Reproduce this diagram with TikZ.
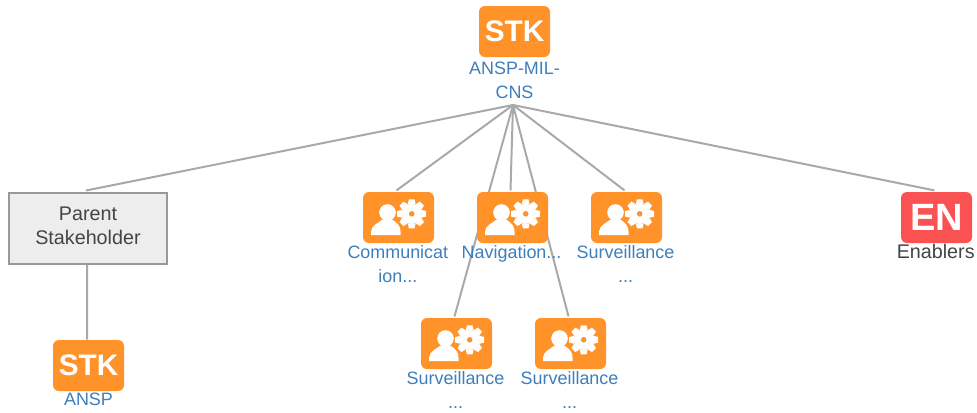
\documentclass[tikz,border=0pt]{standalone}
\usepackage{fontspec}
\setmainfont{Liberation Sans}
\usepackage{tikz}
\usetikzlibrary{positioning, backgrounds}
\definecolor{tileorange}{HTML}{FF9229}
\definecolor{tilered}{HTML}{FA5252}
\definecolor{labelblue}{HTML}{3D7EBB}
\definecolor{linegray}{HTML}{A9A9A9}
\definecolor{textgray}{HTML}{444444}
\tikzstyle{tile} = [rectangle, rounded corners=4.5pt, minimum width=53.25pt, minimum height=38.25pt, inner sep=0pt, fill=tileorange, text=white, font=\fontsize{22.3}{22.3}\selectfont\bfseries]
\tikzstyle{entile} = [tile, fill=tilered, font=\fontsize{28.5}{28.5}\selectfont\bfseries]
\tikzstyle{tilelabel} = [inner sep=0pt, align=center, text=labelblue, font=\fontsize{13.45}{17.8}\selectfont]
\tikzstyle{parentbox} = [rectangle, minimum width=119pt, minimum height=53pt, inner sep=0pt, align=center, draw=gray!80, line width=1.5pt, fill=black!7, text=textgray, font=\fontsize{14.8}{18}\selectfont]
\tikzstyle{link} = [linegray, line width=1.5pt]
\tikzset{usergear/.pic={
  \fill[white] (-11,-5) circle (8.3);
  \fill[white] (-27.5,17.7) -- (-27.5,14) .. controls (-27,8) and (-21,6) .. (-16,2) -- (-6,2) .. controls (-1,6) and (2,8) .. (2,14) -- (2,17.7) -- cycle;
  \fill[white] (13.2,-3.7) circle (10);
  \foreach \a in {0,45,...,315}
    \fill[white, shift={(13.2,-3.7)}, rotate=\a] (-4,-9.5) -- (-2.8,-14.5) -- (2.8,-14.5) -- (4,-9.5) -- cycle;
  \fill[tileorange] (13.2,-3.7) circle (2.8);
}}

\begin{document}
\begin{tikzpicture}[x=0.75pt, y=-0.75pt, node distance=85.5pt]
\useasboundingbox (0,0) rectangle (977,412);
\node (stk) [tile] at (514.5,31.5) {STK};
\node (stklabel) [tilelabel, below=3.2pt of stk] {ANSP-MIL-\\CNS};
\coordinate (hub) at (513,105);

\node (nav) [tile, node distance=139.5pt, below of=stk, xshift=-1.5pt] {};
\node (comm) [tile, left of=nav] {};
\node (surv) [tile, right of=nav] {};
\node (survb) [tile, node distance=94.5pt, below of=nav, xshift=-42pt] {};
\node (survc) [tile, node distance=94.5pt, below of=nav, xshift=43.5pt] {};
\node (en) [entile, node distance=232.5pt, right of=surv] {EN};
\node (parent) [parentbox, node distance=232.9pt, left of=comm, yshift=-8pt] {Parent\\Stakeholder\rule[-3pt]{0pt}{3pt}};
\node (ansp) [tile, node distance=103pt, below of=parent, xshift=0.4pt] {STK};

\node (navlabel) [tilelabel, below=1.3pt of nav, xshift=-0.7pt] {Navigation...};
\node (commlabel) [tilelabel, below=1.3pt of comm, xshift=-0.5pt] {Communicat\\ion...};
\node (survlabel) [tilelabel, below=1.3pt of surv, xshift=-0.7pt] {Surveillance\\...};
\node (survblabel) [tilelabel, below=1.3pt of survb, xshift=-0.7pt] {Surveillance\\...};
\node (survclabel) [tilelabel, below=1.3pt of survc, xshift=-0.7pt] {Surveillance\\...};
\node (enlabel) [below=0.6pt of en, inner sep=0pt, xshift=-0.6pt, text=textgray, font=\fontsize{14.8}{18}\selectfont] {Enablers};
\node (ansplabel) [tilelabel, below=1pt of ansp] {ANSP};

\foreach \n in {nav,comm,surv,survb,survc}
  \pic at (\n) {usergear};

\begin{scope}[on background layer]
\foreach \n in {parent,comm,nav,surv,survb,survc,en}
  \draw [link] (hub) -- ([xshift=-1.5pt, yshift=1pt]\n.north);
\draw [link] ([xshift=-0.7pt]parent.south) -- ([xshift=-1.1pt]ansp.north);
\end{scope}
\end{tikzpicture}
\end{document}
